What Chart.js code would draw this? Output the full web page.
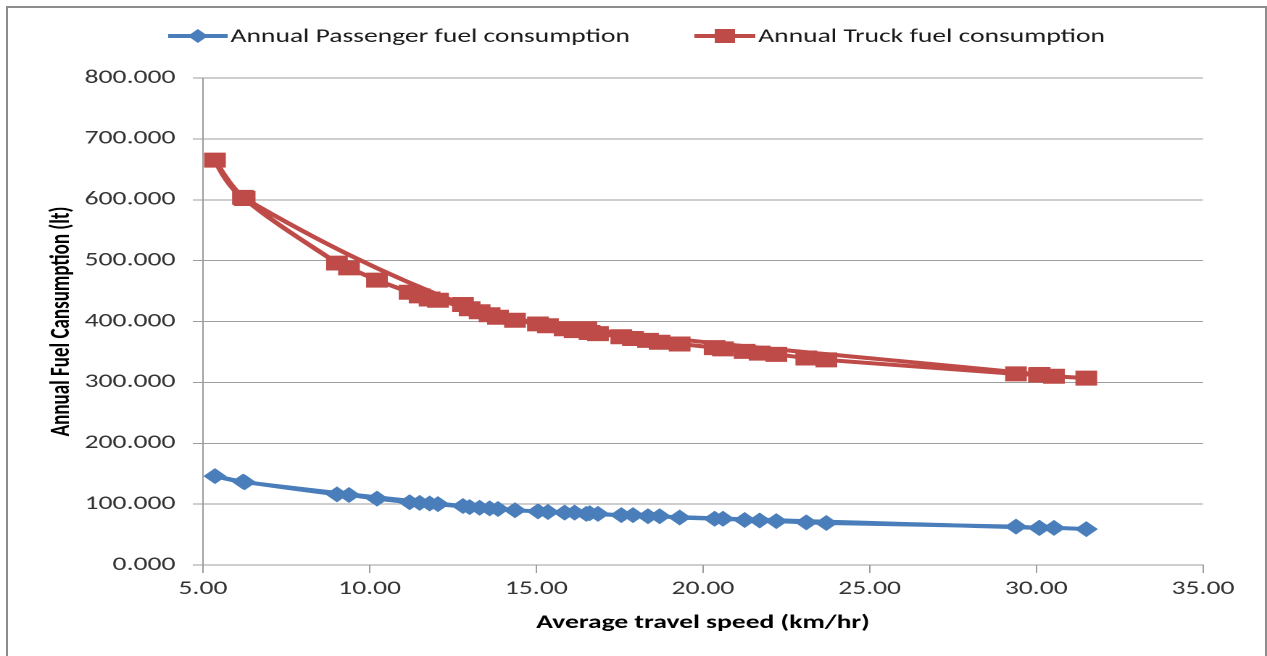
<!DOCTYPE html>
<html lang="en">
<head>
    <meta charset="UTF-8" />
    <title>Annual fuel consumption vs average travel speed</title>
    <script src="https://cdn.jsdelivr.net/npm/chart.js"></script>
    <style>
        html, body { margin: 0; padding: 0; background: #fff; }
        #page { position: relative; width: 1267px; height: 656px; overflow: hidden; }
        /* the original picture is stretched sideways, so the chart is drawn narrow and scaled */
        #wrap { position: absolute; left: 0; top: 0; width: 874px; height: 656px; transform: scaleX(1.4497); transform-origin: 0 0; }
        #frame { position: absolute; left: 6px; top: 6px; width: 1261px; height: 700px; box-sizing: border-box;
                 border: 2px solid #8c8c8c; border-bottom: none; pointer-events: none; }
    </style>
</head>
<body>
<div id="page">
    <div id="wrap"><canvas id="fuelChart" width="874" height="656"></canvas></div>
    <div id="frame"></div>
</div>
<script>
    // values, in the order the lines are drawn
    const speed = [30.1, 16.5, 12.8, 6.25, 5.36, 6.2, 9.02, 9.38, 10.22, 11.2,
                   11.5, 11.8, 12.05, 13.0, 13.3, 13.6, 13.85, 14.36, 15.05, 15.35,
                   15.85, 16.15, 16.6, 16.85, 17.55, 17.9, 18.35, 18.7, 19.3, 20.35,
                   20.6, 21.25, 21.7, 22.2, 23.1, 23.7, 29.39, 30.08, 30.53, 31.5];
    const passengerFuel = [61, 84, 97, 136, 146, 137, 116, 115, 109, 103,
                           102, 101, 100, 95, 94, 93, 92, 90, 88, 87,
                           86, 86, 85, 84, 82, 82, 80, 80, 78, 76,
                           76, 74, 73, 72, 70, 69, 63, 61, 61, 59];
    const truckFuel = [313, 388, 428, 602, 665, 604, 496, 488, 468, 448,
                       442, 437, 435, 421, 416, 411, 407, 402, 396, 393,
                       388, 385, 382, 380, 375, 372, 369, 366, 363, 357,
                       355, 351, 348, 346, 340, 337, 314, 312, 310, 307];
    const seriesNames = ['Annual Passenger fuel consumption', 'Annual Truck fuel consumption'];
    const xTicks = [5, 10, 15, 20, 25, 30, 35];
    const yTicks = [0, 100, 200, 300, 400, 500, 600, 700, 800];

    const BLUE = '#4a7ebb';
    const RED = '#be4b48';
    const FONT = 'Carlito, Lato, sans-serif';

    function toPoints(xs, ys) {
        return xs.map((x, i) => ({ x: x, y: ys[i] }));
    }

    // Excel style legend: short line with the marker on it
    const excelLegend = {
        id: 'excelLegend',
        afterDraw(chart) {
            const ctx = chart.ctx;
            const items = [
                { text: seriesNames[0], color: BLUE, x0: 116, x1: 157, shape: 'diamond' },
                { text: seriesNames[1], color: RED, x0: 479, x1: 521, shape: 'square' }
            ];
            const y = 36;
            ctx.save();
            items.forEach(it => {
                ctx.strokeStyle = it.color;
                ctx.lineWidth = 4;
                ctx.beginPath();
                ctx.moveTo(it.x0, y);
                ctx.lineTo(it.x1, y);
                ctx.stroke();
                const cx = (it.x0 + it.x1) / 2;
                ctx.fillStyle = it.color;
                ctx.beginPath();
                if (it.shape === 'diamond') {
                    ctx.moveTo(cx - 7, y); ctx.lineTo(cx, y - 7); ctx.lineTo(cx + 7, y); ctx.lineTo(cx, y + 7);
                } else {
                    ctx.rect(cx - 7, y - 7, 14, 14);
                }
                ctx.closePath();
                ctx.fill();
                ctx.fillStyle = '#1a1a1a';
                ctx.font = '19px ' + FONT;
                ctx.textAlign = 'left';
                ctx.textBaseline = 'middle';
                ctx.fillText(it.text, it.x1 + 2, y + 1);
            });
            ctx.restore();
        }
    };

    new Chart(document.getElementById('fuelChart'), {
        type: 'scatter',
        data: {
            datasets: [{
                label: seriesNames[0],
                data: toPoints(speed, passengerFuel),
                showLine: true,
                borderColor: BLUE,
                backgroundColor: BLUE,
                borderWidth: 4,
                tension: 0.35,
                pointStyle: 'rectRot',
                pointRadius: 8,
                pointBorderWidth: 0
            }, {
                label: seriesNames[1],
                data: toPoints(speed, truckFuel),
                showLine: true,
                borderColor: RED,
                backgroundColor: RED,
                borderWidth: 4,
                tension: 0.35,
                pointStyle: 'rect',
                pointRadius: 10.6,
                pointBorderWidth: 0
            }]
        },
        options: {
            responsive: false,
            devicePixelRatio: 2,
            animation: false,
            layout: { padding: { top: 78, right: 44.2, bottom: 0, left: 0 } },
            plugins: {
                legend: { display: false },
                tooltip: { enabled: false }
            },
            scales: {
                x: {
                    type: 'linear',
                    min: xTicks[0],
                    max: xTicks[xTicks.length - 1],
                    afterFit(scale) { scale.height = 91; },
                    ticks: {
                        stepSize: xTicks[1] - xTicks[0],
                        padding: 5,
                        color: '#333',
                        font: { family: FONT, size: 19 },
                        maxRotation: 0,
                        callback: v => Number(v).toFixed(2)
                    },
                    grid: { drawOnChartArea: false, drawTicks: true, tickLength: 8, color: '#9d9d9d' },
                    border: { display: true, color: '#9d9d9d', width: 1 },
                    title: {
                        display: true,
                        text: 'Average travel speed (km/hr)',
                        color: '#000',
                        font: { family: FONT, size: 19, weight: 'bold' },
                        padding: { top: 4, bottom: 21.6 }
                    }
                },
                y: {
                    min: yTicks[0],
                    max: yTicks[yTicks.length - 1],
                    afterFit(scale) { scale.width = 140; },
                    ticks: {
                        stepSize: yTicks[1] - yTicks[0],
                        padding: 12,
                        color: '#333',
                        font: { family: FONT, size: 19 },
                        callback: v => Number(v).toFixed(3)
                    },
                    grid: { drawTicks: true, tickLength: 7, color: '#9d9d9d' },
                    border: { display: true, color: '#9d9d9d', width: 1 },
                    title: {
                        display: true,
                        text: 'Annual Fuel Cansumption (lt)',
                        color: '#000',
                        font: { family: FONT, size: 19, weight: 'bold' },
                        padding: { top: 31.4, bottom: 4 }
                    }
                }
            }
        },
        plugins: [excelLegend]
    });
</script>
</body>
</html>
